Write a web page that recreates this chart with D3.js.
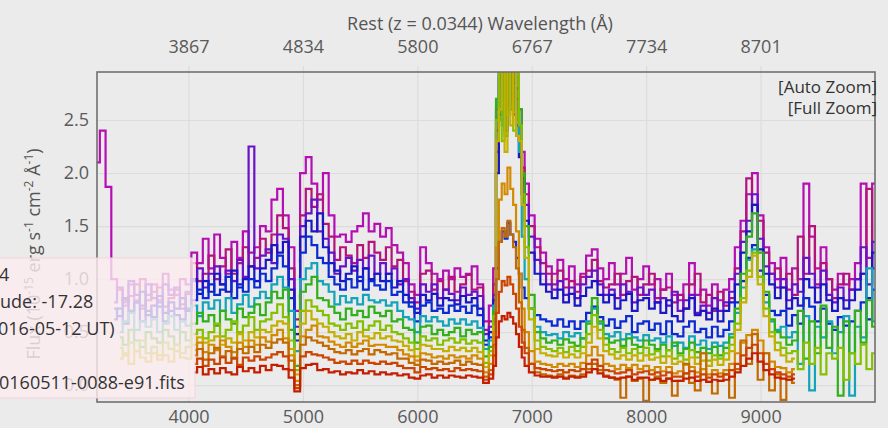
<!DOCTYPE html>
<html><head><meta charset="utf-8">
<script src="https://cdn.jsdelivr.net/npm/d3@7"></script>
<style>
html,body{margin:0;padding:0;background:#ebebeb;overflow:hidden}
svg{display:block;font-family:"Open Sans",sans-serif}
</style></head><body>
<svg id="chart" width="888" height="428"></svg>
<script>
const _ = null;
// observed wavelength grid (Å); finer sampling across H-alpha
const wavelengths = [
3200,3250,3300,3350,3400,3450,3500,3550,3600,3650,
3700,3750,3800,3850,3900,3950,4000,4050,4100,4150,
4200,4250,4300,4350,4400,4450,4500,4550,4600,4650,
4700,4750,4800,4850,4900,4950,5000,5050,5100,5150,
5200,5250,5300,5350,5400,5450,5500,5550,5600,5650,
5700,5750,5800,5850,5900,5950,6000,6050,6100,6150,
6200,6250,6300,6350,6400,6450,6500,6550,6600,6650,
6675,6700,6725,6750,6775,6800,6825,6850,6875,6900,6925,6950,
7000,7050,7100,7150,7200,7250,7300,7350,7400,7450,
7500,7550,7600,7650,7700,7750,7800,7850,7900,7950,
8000,8050,8100,8150,8200,8250,8300,8350,8400,8450,
8500,8550,8600,8650,8700,8750,8800,8850,8900,8950,
9000,9050,9100,9150,9200,9250,9300,9350,9400,9450,
9500,9550,9600,9650,9700,9750,9800,9850,9900,9950,
10000];

const bottomTicks = [4000,5000,6000,7000,8000,9000];
const restTickLabels = ["3867","4834","5800","6767","7734","8701"];
const fluxTicks = [0,0.5,1,1.5,2,2.5];
const fluxTickLabels = ["0.0","0.5","1.0","1.5","2.0","2.5"];

const spectrumColors = ["#b50fb3","#b3137a","#6a12c8","#1a16c4","#0a2ad2","#12a4b8","#30b01a","#84c000","#c4b000","#d48a00","#c46800","#cc4400","#c41e00"];

const flux1 = [
2.1,2.4,1.87,1.0,0.9,0.75,0.95,0.8,1.0,0.85,
0.95,0.8,1.05,0.9,0.85,1.0,0.95,1.25,1.15,1.38,
1.1,1.42,1.2,1.05,1.35,1.2,1.45,1.25,1.3,1.5,
1.45,1.75,1.85,1.6,1.3,0.7,2.0,2.15,1.9,1.75,
2.0,1.6,1.4,1.42,1.35,1.45,1.5,1.62,1.45,1.52,
1.4,1.48,1.32,1.25,1.15,0.95,0.85,1.3,1.15,1.05,
1.0,1.08,1.0,1.1,1.02,1.05,1.12,0.95,0.6,0.75,
1.1,2.6,3.4,2.8,3.6,2.7,3.5,2.85,3.2,2.6,2.2,1.9,
1.6,1.38,1.25,1.12,1.05,1.18,1.0,1.12,0.95,1.05,
1.22,1.28,1.1,1.0,1.15,0.95,1.05,1.2,0.9,1.0,
1.12,0.95,1.0,0.9,1.05,0.85,0.8,0.95,1.15,0.85,
0.9,0.75,0.95,0.8,0.9,1.0,1.3,1.55,1.8,2.0,
1.6,1.3,1.15,1.0,1.2,0.9,1.1,1.0,1.9,1.4,
1.1,1.3,1.0,0.9,1.05,0.95,1.0,1.15,1.9,1.2,
1.9];
const flux2 = [
_,_,_,_,0.9,0.78,0.84,0.95,0.72,0.8,
0.88,0.92,0.74,0.82,0.9,0.76,0.86,1.15,0.98,1.05,
1.22,1.0,1.12,1.28,1.05,1.15,1.3,1.12,1.2,1.38,
1.25,1.42,1.6,1.48,1.1,0.62,1.6,1.85,1.68,1.8,
1.52,1.4,1.18,1.3,1.22,1.15,1.32,1.2,1.35,1.25,
1.18,1.3,1.12,1.18,0.98,0.88,0.78,1.05,1.08,0.9,
0.98,0.9,1.02,0.88,0.95,1.04,0.9,0.92,0.52,0.6,
0.95,2.4,2.9,3.5,2.6,3.6,2.75,3.4,2.7,2.45,2.05,1.8,
1.5,1.3,1.15,1.05,0.95,1.08,0.92,0.98,0.88,1.02,
1.08,1.18,0.98,0.92,0.95,1.05,0.85,0.98,1.02,0.85,
0.95,1.05,0.82,0.9,0.92,0.78,0.85,0.72,0.95,1.05,
0.78,0.85,0.7,0.88,0.75,0.82,1.1,1.45,1.95,1.7,
1.55,1.25,1.05,1.1,0.92,1.05,0.85,1.4,1.05,1.5,
0.95,1.15,1.0,0.82,0.95,1.05,0.9,1.0,1.05,1.85,
1.1];
const flux3 = [
_,_,_,0.78,0.92,0.8,0.98,0.85,0.75,0.95,
0.82,0.78,0.95,0.85,0.92,0.72,0.88,0.98,1.1,0.92,
1.05,1.12,0.95,1.08,0.98,1.18,1.02,2.25,1.1,1.22,
1.28,1.15,1.42,1.38,1.0,0.55,1.5,1.62,1.75,1.45,
1.38,1.25,1.05,1.12,1.2,1.08,1.18,1.1,1.22,1.05,
1.15,1.05,1.1,0.95,1.0,0.82,0.72,0.95,0.88,0.95,
0.82,0.9,0.86,0.8,0.92,0.85,0.88,0.84,0.48,0.55,
0.85,2.2,3.0,2.5,3.3,2.65,3.6,2.55,2.8,2.3,1.95,1.7,
1.4,1.18,1.05,0.95,0.9,0.98,0.85,0.92,0.82,0.95,
1.02,1.08,0.95,0.85,0.9,0.82,0.95,0.88,0.78,0.92,
0.85,0.9,0.78,0.82,0.75,0.88,0.7,0.8,0.85,0.68,
0.75,0.68,0.82,0.7,0.78,0.88,1.05,1.35,1.55,1.8,
1.38,1.12,1.05,0.92,1.0,0.8,0.95,0.88,1.2,1.05,
0.92,1.08,0.85,0.78,0.92,0.8,0.9,1.0,1.3,0.95,
1.35];
const flux4 = [
_,_,_,0.72,0.65,0.82,0.7,0.78,0.88,0.66,
0.75,0.84,0.68,0.78,0.72,0.82,0.7,1.0,0.86,0.98,
0.88,1.05,0.95,0.88,1.08,0.92,1.0,1.12,0.98,1.1,
1.18,1.32,1.25,1.35,0.9,0.48,1.4,1.55,1.45,1.62,
1.3,1.15,1.08,0.98,1.05,1.12,0.98,1.1,1.0,1.05,
0.98,1.05,0.92,0.98,0.85,0.78,0.68,0.85,0.8,0.86,
0.75,0.82,0.8,0.76,0.84,0.78,0.82,0.72,0.42,0.5,
0.8,2.0,2.55,3.2,2.4,3.3,2.6,3.1,2.45,2.15,1.8,1.55,
1.25,1.05,0.95,0.88,0.82,0.9,0.78,0.86,0.75,0.84,
0.92,0.98,0.85,0.78,0.85,0.72,0.8,0.86,0.7,0.8,
0.82,0.72,0.78,0.68,0.8,0.65,0.6,0.72,0.82,0.66,
0.7,0.62,0.72,0.6,0.7,0.78,0.95,1.25,1.45,1.7,
1.28,1.05,0.95,0.82,0.92,0.72,0.82,0.75,1.0,0.92,
0.78,0.95,0.8,0.7,0.82,0.72,0.8,0.9,1.05,0.82,
1.25];
const flux5 = [
_,_,_,0.62,0.72,0.58,0.68,0.78,0.6,0.7,
0.64,0.74,0.6,0.7,0.66,0.62,0.72,0.8,0.9,0.82,
0.95,0.85,0.9,1.02,0.82,0.95,0.88,1.0,0.92,1.05,
0.98,1.1,1.22,1.12,0.82,0.42,1.25,1.4,1.32,1.2,
1.15,1.02,0.95,0.9,1.0,0.92,1.02,0.9,0.98,0.94,
0.9,0.98,0.85,0.88,0.78,0.74,0.6,0.75,0.78,0.7,
0.72,0.68,0.75,0.7,0.74,0.68,0.75,0.66,0.38,0.45,
0.7,1.1,1.35,1.45,1.38,1.53,1.42,1.35,1.2,1.05,0.92,0.82,
0.72,0.66,0.62,0.6,0.56,0.62,0.55,0.6,0.53,0.6,
0.68,0.74,0.64,0.56,0.62,0.54,0.6,0.65,0.5,0.58,
0.6,0.52,0.58,0.48,0.6,0.48,0.46,0.55,0.6,0.5,
0.53,0.45,0.55,0.46,0.52,0.6,0.78,0.98,1.2,1.32,
1.08,0.85,0.7,0.66,0.7,0.56,0.66,0.58,0.82,0.74,
0.6,0.72,0.58,0.52,0.64,0.56,0.6,0.7,0.78,0.62,
0.9];
const flux6 = [
_,_,_,_,0.5,0.6,0.68,0.52,0.6,0.55,
0.62,0.5,0.58,0.65,0.52,0.6,0.56,0.75,0.65,0.78,
0.72,0.8,0.7,0.82,0.68,0.76,0.85,0.74,0.82,0.88,
0.82,0.95,1.02,0.92,0.7,0.32,1.0,1.1,1.15,0.98,
0.95,0.88,0.76,0.84,0.78,0.82,0.76,0.85,0.8,0.78,
0.8,0.75,0.78,0.7,0.64,0.62,0.5,0.65,0.6,0.64,
0.6,0.56,0.62,0.58,0.62,0.57,0.6,0.54,0.34,0.42,
0.75,2.5,3.3,2.45,3.4,2.7,3.2,2.6,2.9,2.2,1.4,1.0,
0.72,0.55,0.5,0.47,0.48,0.44,0.5,0.46,0.49,0.44,
0.6,0.72,0.58,0.48,0.46,0.5,0.43,0.48,0.45,0.42,
0.47,0.42,0.44,0.4,0.46,0.37,0.4,0.35,0.46,0.38,
0.42,0.34,0.4,0.37,0.4,0.48,0.68,0.92,1.18,1.28,
1.02,0.78,0.6,0.52,0.55,0.45,0.5,0.2,0.65,-0.05,
0.55,0.45,0.6,0.3,0.5,0.65,-0.1,0.55,0.45,1.1,
0.6];
const flux7 = [
_,_,_,_,0.45,0.38,0.52,0.42,0.36,0.5,
0.44,0.4,0.52,0.46,0.38,0.5,0.42,0.58,0.68,0.6,
0.66,0.56,0.7,0.62,0.58,0.72,0.64,0.68,0.76,0.66,
0.78,0.88,0.82,0.9,0.52,0.18,0.88,0.95,1.02,0.82,
0.8,0.74,0.68,0.62,0.72,0.66,0.7,0.64,0.74,0.68,
0.65,0.7,0.6,0.62,0.54,0.52,0.4,0.55,0.56,0.48,
0.52,0.47,0.5,0.54,0.46,0.52,0.48,0.5,0.27,0.36,
0.7,2.7,2.5,3.5,2.35,4.0,2.6,3.9,2.5,2.6,2.0,1.5,
0.85,0.5,0.44,0.4,0.42,0.38,0.43,0.4,0.37,0.44,
0.58,0.82,0.6,0.44,0.4,0.42,0.37,0.44,0.38,0.36,
0.42,0.38,0.34,0.38,0.33,0.4,0.3,0.34,0.4,0.31,
0.35,0.3,0.36,0.28,0.35,0.45,0.72,1.05,1.4,1.62,
1.25,0.88,0.62,0.5,0.45,0.38,0.42,0.7,0.25,0.6,
0.3,0.75,0.35,0.55,-0.1,0.6,0.3,0.7,0.4,0.8,
0.55];
const flux8 = [
_,_,_,_,0.35,0.28,0.4,0.32,0.42,0.3,
0.36,0.28,0.4,0.34,0.38,0.3,0.36,0.48,0.52,0.44,
0.5,0.58,0.46,0.52,0.6,0.5,0.56,0.64,0.52,0.6,
0.62,0.68,0.76,0.64,0.42,0.14,0.7,0.8,0.74,0.7,
0.66,0.58,0.56,0.52,0.58,0.54,0.6,0.52,0.56,0.6,
0.52,0.56,0.5,0.48,0.44,0.4,0.34,0.46,0.42,0.44,
0.38,0.42,0.44,0.4,0.43,0.39,0.42,0.4,0.21,0.32,
0.65,2.5,3.4,2.3,3.1,2.55,3.9,2.4,3.1,2.45,1.8,1.3,
0.72,0.42,0.36,0.34,0.32,0.35,0.31,0.36,0.32,0.36,
0.48,0.66,0.52,0.38,0.34,0.31,0.35,0.3,0.34,0.3,
0.35,0.29,0.32,0.27,0.33,0.25,0.28,0.24,0.33,0.26,
0.3,0.23,0.28,0.25,0.3,0.38,0.58,0.82,1.08,1.25,
1.02,0.72,0.5,0.4,0.35,0.3,0.32,0.15,0.4,0.2,
0.35,0.1,0.3,0.25,0.35,0.05,0.3,0.2,0.38,0.15,
0.3];
const flux9 = [
_,_,_,_,0.25,0.3,0.2,0.32,0.26,0.22,
0.3,0.24,0.28,0.22,0.32,0.26,0.25,0.38,0.45,0.4,
0.42,0.46,0.38,0.44,0.4,0.48,0.42,0.5,0.45,0.52,
0.5,0.56,0.6,0.58,0.34,0.1,0.58,0.7,0.62,0.58,
0.55,0.5,0.46,0.44,0.48,0.42,0.5,0.46,0.44,0.49,
0.44,0.46,0.42,0.41,0.37,0.33,0.27,0.38,0.37,0.34,
0.34,0.32,0.36,0.33,0.35,0.32,0.35,0.31,0.17,0.28,
0.55,2.3,2.6,3.4,2.2,3.6,2.45,3.2,2.35,2.3,1.7,1.2,
0.62,0.34,0.3,0.28,0.27,0.3,0.26,0.29,0.26,0.3,
0.4,0.55,0.44,0.32,0.29,0.25,0.28,0.24,0.28,0.23,
0.28,0.24,0.26,0.21,0.27,0.2,0.22,0.19,0.26,0.2,
0.23,0.18,0.24,0.19,0.24,0.32,0.52,0.78,1.02,1.22,
0.95,0.65,0.46,0.33,0.28,0.22,0.25,_,_,_,
_,_,_,_,_,_,_,_,_,_,
_];
const flux10 = [
_,_,_,_,_,_,_,_,_,_,
_,_,_,_,_,_,_,0.33,0.4,0.31,
0.38,0.33,0.42,0.36,0.31,0.4,0.36,0.42,0.38,0.45,
0.41,0.47,0.52,0.44,0.28,0.04,0.46,0.52,0.56,0.46,
0.45,0.41,0.38,0.36,0.4,0.36,0.39,0.42,0.37,0.38,
0.38,0.36,0.36,0.33,0.29,0.27,0.23,0.3,0.29,0.26,
0.27,0.25,0.28,0.26,0.27,0.25,0.28,0.25,0.12,0.2,
0.5,1.3,1.75,1.9,1.8,2.05,1.85,1.7,1.45,1.05,0.72,0.5,
0.32,0.22,0.2,0.19,0.17,0.2,0.18,0.2,0.17,0.21,
0.28,0.36,0.28,0.2,0.18,0.15,0.19,0.16,0.19,0.15,
0.18,0.14,0.17,0.13,0.17,0.11,0.13,0.11,0.17,0.12,
0.15,0.1,0.14,0.11,0.14,0.2,0.3,0.4,0.47,0.52,
0.42,0.3,0.22,0.17,0.16,0.12,0.15,_,_,_,
_,_,_,_,_,_,_,_,_,_,
_];
const flux11 = [
_,_,_,_,_,_,_,_,_,_,
_,_,_,_,_,_,_,0.28,0.34,0.24,
0.3,0.35,0.27,0.32,0.26,0.34,0.3,0.36,0.31,0.38,
0.35,0.4,0.43,0.4,0.23,0.0,0.38,0.45,0.42,0.4,
0.37,0.34,0.31,0.3,0.33,0.29,0.32,0.34,0.29,0.33,
0.31,0.29,0.3,0.25,0.25,0.21,0.19,0.24,0.23,0.2,
0.22,0.2,0.21,0.23,0.19,0.22,0.2,0.19,0.08,0.14,
0.38,1.0,1.35,1.48,1.4,1.55,1.42,1.3,1.1,0.78,0.52,0.35,
0.2,0.12,0.1,0.09,0.08,0.1,0.07,0.09,0.08,0.1,
0.15,0.2,0.14,0.09,0.07,0.05,-0.12,0.08,0.04,0.06,
-0.15,0.05,0.08,0.02,0.06,-0.1,0.04,0.2,0.02,-0.05,
0.3,0.03,-0.08,0.04,0.1,-0.12,0.15,0.42,0.2,0.48,
0.05,0.3,-0.05,0.1,-0.14,0.05,0.02,_,_,_,
_,_,_,_,_,_,_,_,_,_,
_];
const flux12 = [
_,_,_,_,_,_,_,_,_,_,
_,_,_,_,_,_,_,0.2,0.25,0.18,
0.24,0.2,0.26,0.21,0.25,0.19,0.26,0.23,0.27,0.24,
0.26,0.29,0.31,0.27,0.14,-0.03,0.27,0.31,0.29,0.28,
0.26,0.24,0.21,0.22,0.2,0.23,0.2,0.23,0.21,0.2,
0.22,0.2,0.21,0.18,0.16,0.16,0.12,0.17,0.15,0.16,
0.14,0.15,0.13,0.16,0.14,0.15,0.14,0.13,0.05,0.1,
0.28,0.68,0.88,0.98,0.94,1.02,0.95,0.86,0.72,0.55,0.4,0.3,
0.2,0.16,0.15,0.14,0.13,0.14,0.12,0.14,0.13,0.15,
0.2,0.24,0.18,0.14,0.13,0.11,0.12,0.14,0.1,0.12,
0.13,0.1,0.12,0.09,0.12,0.08,0.08,0.11,0.13,0.08,
0.1,0.07,0.1,0.08,0.1,0.14,0.2,0.28,0.35,0.38,
0.3,0.2,0.15,0.12,0.1,0.08,0.1,_,_,_,
_,_,_,_,_,_,_,_,_,_,
_];
const flux13 = [
_,_,_,_,_,_,_,_,_,_,
_,_,_,_,_,_,_,0.12,0.17,0.1,
0.15,0.11,0.16,0.12,0.1,0.17,0.13,0.16,0.12,0.18,
0.14,0.19,0.18,0.15,0.07,-0.06,0.16,0.19,0.2,0.14,
0.15,0.12,0.13,0.1,0.12,0.11,0.14,0.11,0.13,0.1,
0.12,0.1,0.11,0.09,0.1,0.07,0.06,0.09,0.1,0.07,
0.09,0.07,0.09,0.08,0.07,0.09,0.08,0.07,0.02,0.06,
0.18,0.45,0.6,0.65,0.62,0.68,0.64,0.58,0.48,0.36,0.26,0.18,
0.12,0.09,0.08,0.08,0.07,0.08,0.06,0.08,0.07,0.08,
0.12,0.15,0.11,0.08,0.07,0.06,0.07,0.08,0.05,0.07,
0.07,0.05,0.06,0.04,0.06,0.04,0.04,0.06,0.07,0.04,
0.05,0.03,0.05,0.04,0.05,0.08,0.12,0.18,0.25,0.3,
0.22,0.14,0.1,0.07,0.06,0.05,0.06,_,_,_,
_,_,_,_,_,_,_,_,_,_,
_];

const spectraFlux = [flux1,flux2,flux3,flux4,flux5,flux6,flux7,flux8,flux9,flux10,flux11,flux12,flux13];
spectraFlux.forEach((s,i)=>{ if(s.length!==wavelengths.length) throw new Error("flux"+(i+1)+" length "+s.length+" vs "+wavelengths.length); });

const tooltipLines = ["4","ude: -17.28","016-05-12 UT)","","0160511-0088-e91.fits"];

const W = 888, H = 428;
const L = 97, R = 875, T = 72, B = 402;
const svg = d3.select("#chart");
svg.append("rect").attr("width",W).attr("height",H).attr("fill","#ebebeb");

const x = d3.scaleLinear().domain([3200,10000]).range([L,R]);
const y = d3.scaleLinear().domain([-0.16,2.953]).range([B,T]);

// grid
const gridX = svg.append("g").attr("transform",`translate(0,${B})`)
  .call(d3.axisBottom(x).tickValues(bottomTicks).tickSize(-(B-T)).tickFormat(""));
gridX.select(".domain").remove();
gridX.selectAll("line").attr("stroke","#dcdcdc").attr("stroke-width",1.2);
const gridY = svg.append("g").attr("transform",`translate(${L},0)`)
  .call(d3.axisLeft(y).tickValues(fluxTicks).tickSize(-(R-L)).tickFormat(""));
gridY.select(".domain").remove();
gridY.selectAll("line").attr("stroke","#dcdcdc").attr("stroke-width",1.2);

// bottom axis labels
const axB = svg.append("g").attr("transform",`translate(0,${B})`)
  .call(d3.axisBottom(x).tickValues(bottomTicks).tickSize(0).tickPadding(8).tickFormat(d3.format("d")));
axB.select(".domain").remove();
axB.selectAll("text").attr("font-size",18).attr("fill","#5a5a5a").attr("font-family","'Open Sans',sans-serif");

// top axis (rest wavelength)
const axT = svg.append("g").attr("transform",`translate(0,${T})`)
  .call(d3.axisTop(x).tickValues(bottomTicks).tickSize(6).tickPadding(13).tickFormat((d,i)=>restTickLabels[i]));
axT.select(".domain").remove();
axT.selectAll("line").attr("stroke","#dcdcdc").attr("stroke-width",1.2);
axT.selectAll("text").attr("font-size",18).attr("fill","#5a5a5a").attr("font-family","'Open Sans',sans-serif");

// left axis
const axL = svg.append("g").attr("transform",`translate(${L},0)`)
  .call(d3.axisLeft(y).tickValues(fluxTicks).tickSize(0).tickPadding(8).tickFormat((d,i)=>fluxTickLabels[i]));
axL.select(".domain").remove();
axL.selectAll("text").attr("font-size",18).attr("fill","#5a5a5a").attr("font-family","'Open Sans',sans-serif");

// titles
svg.append("text").attr("x",480).attr("y",30).attr("text-anchor","middle")
  .attr("font-size",18).attr("fill","#555").text("Rest (z = 0.0344) Wavelength (Å)");
const yt = svg.append("text").attr("transform","translate(40,254) rotate(-90)")
  .attr("text-anchor","middle").attr("font-size",18).attr("fill","#555");
yt.append("tspan").text("Flux (10");
yt.append("tspan").attr("dy",-7).attr("font-size",12).text("-15");
yt.append("tspan").attr("dy",7).text(" erg s");
yt.append("tspan").attr("dy",-7).attr("font-size",12).text("-1");
yt.append("tspan").attr("dy",7).text(" cm");
yt.append("tspan").attr("dy",-7).attr("font-size",12).text("-2");
yt.append("tspan").attr("dy",7).text(" Å");
yt.append("tspan").attr("dy",-7).attr("font-size",12).text("-1");
yt.append("tspan").attr("dy",7).text(")");

// spectra
svg.append("clipPath").attr("id","plotclip").append("rect")
  .attr("x",L).attr("y",T).attr("width",R-L).attr("height",B-T);
const line = d3.line().defined(d=>d[1]!==null).x(d=>x(d[0])).y(d=>y(d[1])).curve(d3.curveStep);
const gS = svg.append("g").attr("clip-path","url(#plotclip)");
spectraFlux.forEach((s,i)=>{
  gS.append("path").datum(wavelengths.map((w,j)=>[w,s[j]]))
    .attr("d",line).attr("fill","none").attr("stroke",spectrumColors[i])
    .attr("stroke-width",2.2).attr("stroke-linejoin","miter");
});

// frame
svg.append("rect").attr("x",L).attr("y",T).attr("width",R-L).attr("height",B-T)
  .attr("fill","none").attr("stroke","#707070").attr("stroke-width",1.6);

// zoom buttons
svg.append("text").attr("x",877).attr("y",93).attr("text-anchor","end").attr("font-size",17).attr("fill","#333").text("[Auto Zoom]");
svg.append("text").attr("x",877).attr("y",114).attr("text-anchor","end").attr("font-size",17).attr("fill","#333").text("[Full Zoom]");

// tooltip overlay
svg.append("rect").attr("x",-10).attr("y",258).attr("width",205).attr("height",140)
  .attr("fill","rgba(253,236,240,0.8)").attr("stroke","#f2d3da").attr("stroke-width",1);
const tipX = [-1,0,-2,0,-1];
tooltipLines.forEach((t,i)=>{
  svg.append("text").attr("x",tipX[i]).attr("y",281+i*27).attr("font-size",18).attr("fill","#333").text(t);
});
</script>
</body></html>
